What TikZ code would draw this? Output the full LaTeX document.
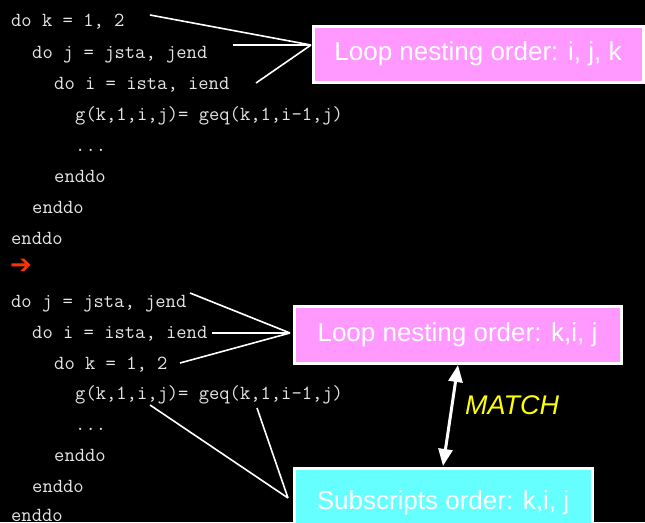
\documentclass[tikz,border=0pt]{standalone}
\usepackage{fontspec}
\setmainfont{Liberation Sans}
\newfontfamily\symfont{DejaVu Sans Bold}
\usetikzlibrary{arrows.meta}
\definecolor{codegray}{HTML}{E6E6E6}
\definecolor{boxpink}{HTML}{FF99FF}
\definecolor{boxcyan}{HTML}{66FFFF}
\definecolor{arrred}{HTML}{FF3300}
\definecolor{matchyellow}{HTML}{FFFF00}
\begin{document}
\begin{tikzpicture}[x=1pt,y=-1pt,
  code/.style={anchor=base west,inner sep=0pt,text=codegray,font=\ttfamily\fontsize{20}{20}\selectfont},
  label/.style={draw=white,line width=3pt,inner sep=0pt,text=white,font=\fontsize{26}{26}\selectfont},
  conn/.style={draw=white,line width=1.6pt},
  dbl/.style={draw=white,line width=3pt,{Triangle[width=14pt,length=17pt]}-{Triangle[width=14pt,length=17pt]}}]
\fill[black] (0,0) rectangle (645,522);
\useasboundingbox (0,0) rectangle (645,522);
% first block
\node[code] (a1) at (11,27) {do k = 1, 2};
\node[code] (a2) at (32,58) {do j = jsta, jend};
\node[code] (a3) at (54,89) {do i = ista, iend};
\node[code] (a4) at (75,120) {g(k,1,i,j)= geq(k,1,i-1,j)};
\node[code] (a5) at (75,151) {...};
\node[code] (a6) at (54,182) {enddo};
\node[code] (a7) at (32,213) {enddo};
\node[code] (a8) at (11,244) {enddo};
\node[anchor=west,inner sep=0pt,text=arrred,font=\symfont\fontsize{26}{26}\selectfont] (ar) at (10,266) {➔};
% second block
\node[code] (b1) at (11,307) {do j = jsta, jend};
\node[code] (b2) at (32,338) {do i = ista, iend};
\node[code] (b3) at (54,369) {do k = 1, 2};
\node[code] (b4) at (75,399) {g(k,1,i,j)= geq(k,1,i-1,j)};
\node[code] (b5) at (75,430) {...};
\node[code] (b6) at (54,461) {enddo};
\node[code] (b7) at (32,492) {enddo};
\node[code] (b8) at (11,521) {enddo};
% boxes
\node[label,fill=boxpink,minimum width=330pt,minimum height=56pt] (L1) at (478,54) {Loop nesting order: i, j, k};
\node[label,fill=boxpink,minimum width=327pt,minimum height=57pt] (L2) at (457.5,334.5) {Loop nesting order: k,i, j};
\node[label,fill=boxcyan,minimum width=298pt,minimum height=70pt] (S) at (443,503) {Subscripts order: k,i, j};
\node[anchor=west,inner sep=0pt,text=matchyellow,font=\itshape\fontsize{27}{27}\selectfont] (M) at (465,405) {MATCH};
% connector endpoints
\coordinate (p1) at (150,15);
\coordinate (p2) at (233,45);
\coordinate (p3) at (256,83);
\coordinate (t1) at (311,45);
\coordinate (q1) at (190,293);
\coordinate (q2) at (212,333);
\coordinate (q3) at (180,363);
\coordinate (t2) at (290,333);
\coordinate (r1) at (150,405);
\coordinate (r2) at (257,408);
\coordinate (t3) at (288,498);
\draw[conn] (p1) -- (t1) (p2) -- (t1) (p3) -- (t1);
\draw[conn] (q1) -- (t2) (q2) -- (t2) (q3) -- (t2);
\draw[conn] (r1) -- (t3) (r2) -- (t3);
\coordinate (m1) at (443,466);
\coordinate (m2) at (458,365);
\draw[dbl] (m1) -- (m2);
\end{tikzpicture}
\end{document}
